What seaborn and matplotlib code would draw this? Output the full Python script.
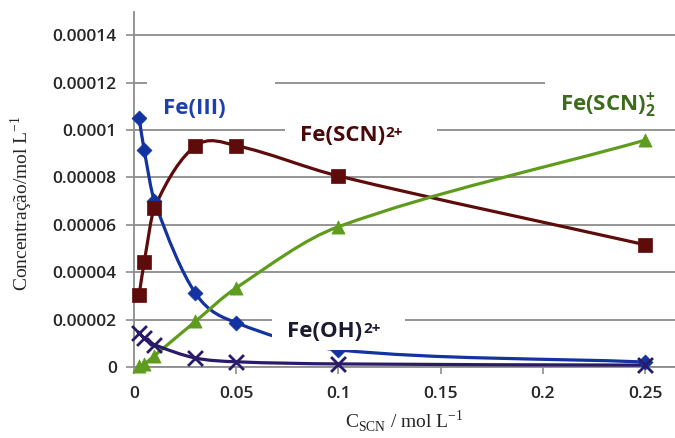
import numpy as np
import matplotlib
matplotlib.use("Agg")
import matplotlib.pyplot as plt
import seaborn as sns
from matplotlib.path import Path
from matplotlib.patches import PathPatch, Rectangle

# concentrations (mol/L)
c_scn = [0.0025, 0.005, 0.01, 0.03, 0.05, 0.1, 0.25]
fe3 = [0.000105, 0.0000915, 0.00007, 0.0000312, 0.0000187, 0.0000072, 0.0000021]
fe_scn = [0.0000304, 0.0000443, 0.0000671, 0.0000932, 0.0000934, 0.0000806, 0.0000516]
fe_scn2 = [0.0000004, 0.0000012, 0.0000048, 0.0000192, 0.0000334, 0.0000592, 0.0000957]
fe_oh = [0.0000143, 0.0000122, 0.0000094, 0.0000038, 0.0000022, 0.0000013, 0.0000008]

x_ticks = [0, 0.05, 0.1, 0.15, 0.2, 0.25]
x_tick_labels = ["0", "0.05", "0.1", "0.15", "0.2", "0.25"]
y_ticks = [0, 0.00002, 0.00004, 0.00006, 0.00008, 0.0001, 0.00012, 0.00014]
y_tick_labels = ["0", "0.00002", "0.00004", "0.00006", "0.00008", "0.0001", "0.00012", "0.00014"]


def smooth_path(xs, ys):
    # smoothed line like Excel: cubic bezier per segment, hermite slopes in x
    x = np.asarray(xs, float)
    y = np.asarray(ys, float)
    n = len(x)
    m = np.empty(n)
    m[0] = (y[1] - y[0]) / (x[1] - x[0])
    m[-1] = (y[-1] - y[-2]) / (x[-1] - x[-2])
    m[1:-1] = (y[2:] - y[:-2]) / (x[2:] - x[:-2])
    verts = [(x[0], y[0])]
    codes = [Path.MOVETO]
    for i in range(n - 1):
        h = (x[i + 1] - x[i]) / 3
        verts += [(x[i] + h, y[i] + m[i] * h),
                  (x[i + 1] - h, y[i + 1] - m[i + 1] * h),
                  (x[i + 1], y[i + 1])]
        codes += [Path.CURVE4] * 3
    return Path(verts, codes)


sns.set_theme(style="white")
plt.rcParams["font.family"] = ["Open Sans", "DejaVu Sans"]
plt.rcParams["mathtext.fontset"] = "custom"
plt.rcParams["mathtext.rm"] = "Liberation Serif"
plt.rcParams["mathtext.bf"] = "Open Sans:bold"

fig = plt.figure(figsize=(6.75, 4.38), dpi=100)
ax = fig.add_axes([134 / 675, 71 / 438, 541 / 675, 355.5 / 438])

grid_col = "#8c8c8c"
series = [
    (fe3, "#1233a0", "D", 58),
    (fe_scn, "#5e0b0b", "s", 115),
    (fe_scn2, "#5f9c1e", "^", 90),
    (fe_oh, "#2a1a6a", "x", 115),
]

for ys, col, mk, size in series:
    ax.add_patch(PathPatch(smooth_path(c_scn, ys), fill=False, edgecolor=col,
                           lw=2.3, zorder=3, capstyle="round", joinstyle="round"))
    if mk == "x":
        sns.scatterplot(x=c_scn, y=ys, marker=mk, s=size, color=col, linewidth=2,
                        ax=ax, zorder=3.5, clip_on=False)
    else:
        sns.scatterplot(x=c_scn, y=ys, marker=mk, s=size, color=col, edgecolor=col,
                        linewidth=0.5, ax=ax, zorder=3.5, clip_on=False)

# white label boxes (they hide grid lines and part of the Fe(III) curve)
boxes = [
    (0.0064, 0.000101, 0.0627, 0.000021),
    (0.0739, 0.0000907, 0.0743, 0.000017),
    (0.201, 0.000104, 0.07, 0.000021),
    (0.0675, 0.0000072, 0.0651, 0.0000148),
]
for bx, by, bw, bh in boxes:
    ax.add_patch(Rectangle((bx, by), bw, bh, facecolor="white", edgecolor="none",
                           zorder=4, clip_on=False))


def species_label(x, y, main, color, sup=None):
    t = ax.text(x, y, main, color=color, fontsize=16, fontweight="bold",
                va="baseline", ha="left", zorder=5)
    if sup:
        ax.annotate(sup, xy=(1, 1), xycoords=t, xytext=(0.5, -0.5),
                    textcoords="offset points", color=color, fontsize=11,
                    fontweight="bold", ha="left", va="top", zorder=5,
                    annotation_clip=False)


species_label(0.0142, 0.0001068, "Fe(III)", "#1f3fae")
species_label(0.0812, 0.0000954, "Fe(SCN)", "#4a0909", sup="2+")
species_label(0.2084, 0.0001084, r"Fe(SCN)$_{\mathbf{2}}^{\mathbf{+}}$", "#3d6b1c")
species_label(0.0749, 0.0000127, "Fe(OH)", "#1a1a30", sup="2+")

ax.set_xlim(0, 541 / 2044)
ax.set_ylim(0, 0.00015)
ax.set_xticks(x_ticks)
ax.set_xticklabels(x_tick_labels, fontweight="semibold")
ax.set_yticks(y_ticks)
ax.set_yticklabels(y_tick_labels, fontweight="semibold")
ax.tick_params(axis="y", length=6, width=1.2, color=grid_col, pad=6.5, labelsize=12.5,
               left=True)
ax.tick_params(axis="x", length=5, width=1.2, color=grid_col, pad=9, labelsize=12.5,
               bottom=True)
ax.grid(axis="y", color=grid_col, lw=1.3)
ax.grid(axis="x", visible=False)
ax.set_axisbelow(True)
sns.despine(ax=ax, top=True, right=True)
for side in ["left", "bottom"]:
    ax.spines[side].set_color(grid_col)
    ax.spines[side].set_linewidth(1.3)

fig.text(404 / 675, 1 - 421 / 438, r"C$_{\mathrm{SCN}}$ / mol L$^{\mathrm{-1}}$",
         family="Liberation Serif", fontsize=14, ha="center", va="center")
fig.text(22 / 675, 1 - 203 / 438, r"Concentração/mol L$^{\mathrm{-1}}$",
         family="Liberation Serif", fontsize=14, ha="center", va="center", rotation=90)

fig.savefig("out.png", dpi=100)
